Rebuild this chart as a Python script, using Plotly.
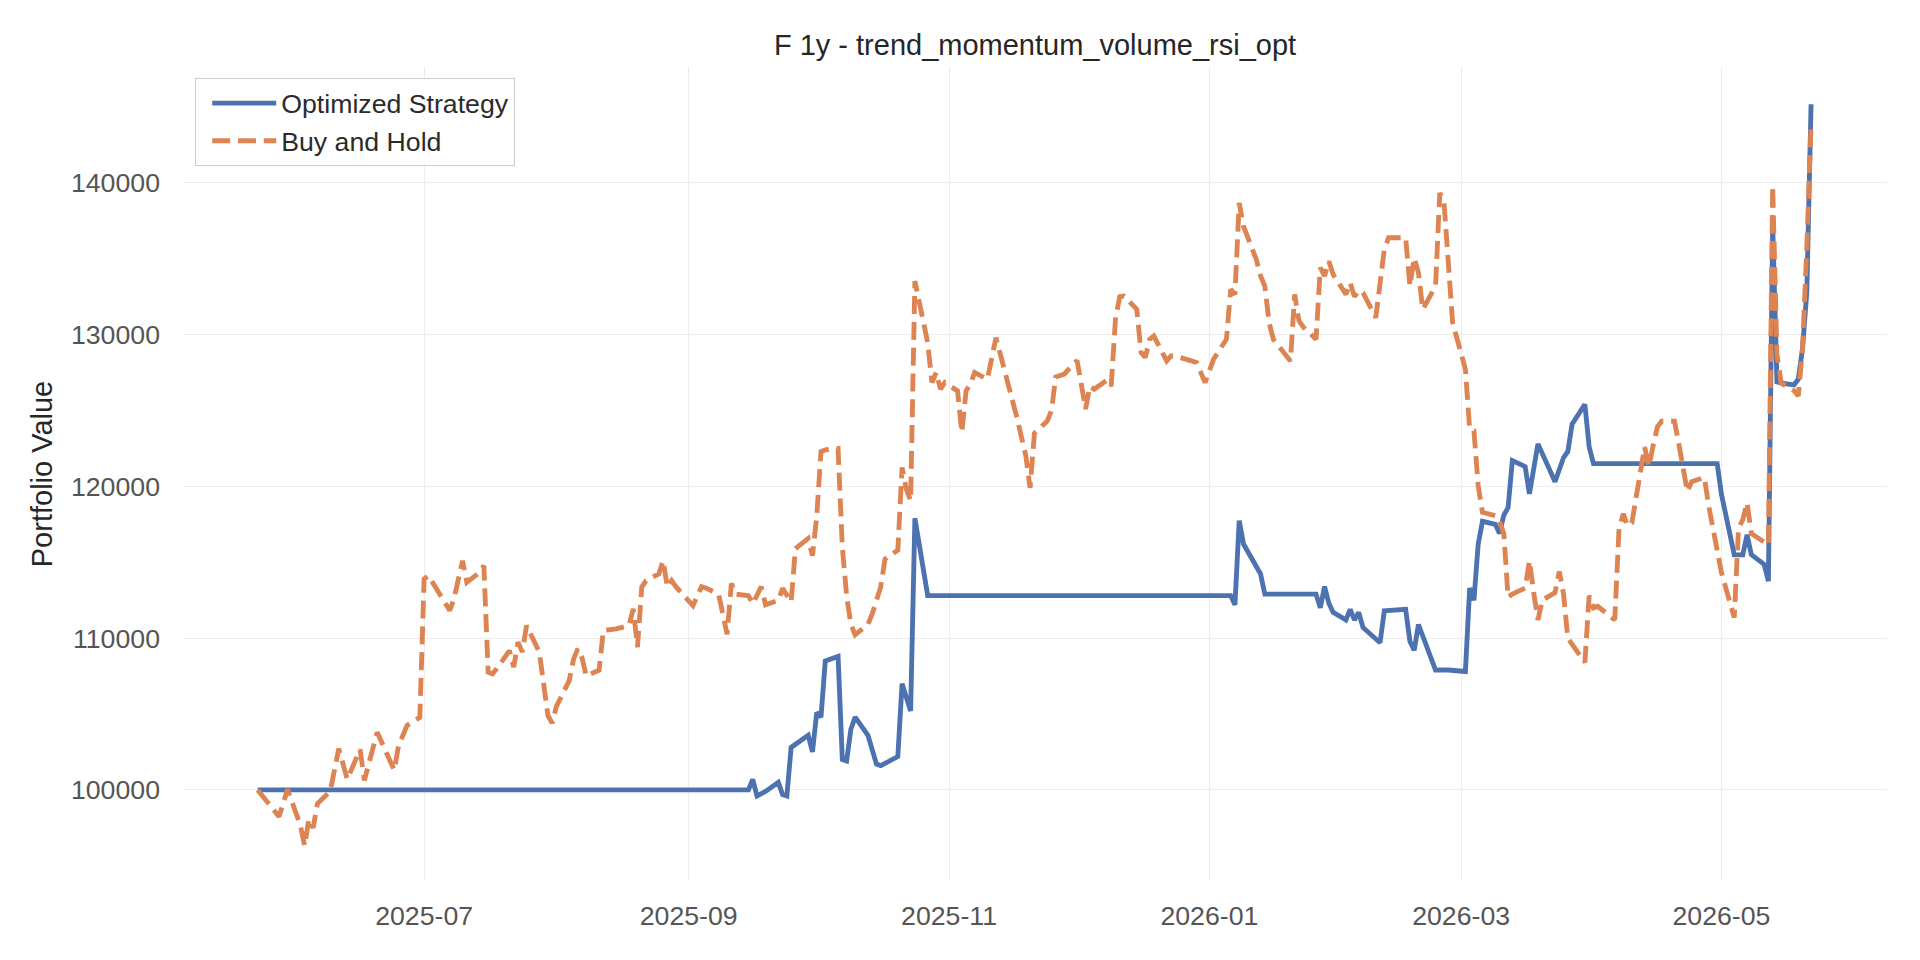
import plotly.graph_objects as go

# ---------------- data ----------------
strategy_dates = [
    "2025-05-23", "2025-09-15", "2025-09-16", "2025-09-17", "2025-09-19", "2025-09-22",
    "2025-09-23", "2025-09-24", "2025-09-25", "2025-09-29", "2025-09-30", "2025-10-01",
    "2025-10-02", "2025-10-03", "2025-10-06", "2025-10-07", "2025-10-08", "2025-10-09",
    "2025-10-10", "2025-10-13", "2025-10-15", "2025-10-16", "2025-10-20", "2025-10-21",
    "2025-10-23", "2025-10-24", "2025-10-27", "2026-01-06", "2026-01-07", "2026-01-08",
    "2026-01-09", "2026-01-13", "2026-01-14", "2026-01-26", "2026-01-27", "2026-01-28",
    "2026-01-29", "2026-01-30", "2026-02-02", "2026-02-03", "2026-02-04", "2026-02-05",
    "2026-02-06", "2026-02-09", "2026-02-10", "2026-02-11", "2026-02-16", "2026-02-17",
    "2026-02-18", "2026-02-19", "2026-02-23", "2026-02-26", "2026-03-02", "2026-03-03",
    "2026-03-04", "2026-03-05", "2026-03-06", "2026-03-09", "2026-03-10", "2026-03-11",
    "2026-03-12", "2026-03-13", "2026-03-16", "2026-03-17", "2026-03-18", "2026-03-19",
    "2026-03-23", "2026-03-25", "2026-03-26", "2026-03-27", "2026-03-30", "2026-03-31",
    "2026-04-01", "2026-04-30", "2026-05-01", "2026-05-04", "2026-05-06", "2026-05-07",
    "2026-05-08", "2026-05-11", "2026-05-12", "2026-05-13", "2026-05-14", "2026-05-15",
    "2026-05-18", "2026-05-19", "2026-05-20", "2026-05-21", "2026-05-22",
]
strategy_values = [
    100000, 100000, 100700, 99600, 99900, 100500,
    99700, 99600, 102800, 103600, 102500, 105100,
    104800, 108500, 108800, 102000, 101900, 104000,
    104800, 103600, 101700, 101600, 102200, 107000,
    105200, 117900, 112800, 112800, 112200, 117740,
    116200, 114230, 112900, 112900, 112000, 113400,
    112300, 111700, 111200, 111900, 111200, 111700,
    110700, 110000, 109700, 111800, 111900, 109800,
    109200, 110900, 107900, 107900, 107800, 113300,
    112500, 116200, 117700, 117500, 116900, 118100,
    118600, 121700, 121300, 119500, 121200, 122800,
    120300, 121900, 122300, 124100, 125400, 122600,
    121500, 121500, 119480, 115490, 115490, 116820,
    115500, 114860, 113750, 137230, 126880, 126800,
    126690, 127060, 129090, 132790, 145180,
]

buyhold_dates = [
    "2025-05-23", "2025-05-28", "2025-05-30", "2025-06-02", "2025-06-03", "2025-06-04",
    "2025-06-05", "2025-06-06", "2025-06-09", "2025-06-11", "2025-06-13", "2025-06-16",
    "2025-06-17", "2025-06-20", "2025-06-24", "2025-06-25", "2025-06-27", "2025-06-30",
    "2025-07-01", "2025-07-02", "2025-07-07", "2025-07-08", "2025-07-10", "2025-07-11",
    "2025-07-14", "2025-07-15", "2025-07-16", "2025-07-17", "2025-07-18", "2025-07-21",
    "2025-07-22", "2025-07-23", "2025-07-24", "2025-07-25", "2025-07-28", "2025-07-30",
    "2025-07-31", "2025-08-01", "2025-08-04", "2025-08-05", "2025-08-06", "2025-08-07",
    "2025-08-08", "2025-08-11", "2025-08-12", "2025-08-15", "2025-08-18", "2025-08-19",
    "2025-08-20", "2025-08-21", "2025-08-22", "2025-08-25", "2025-08-26", "2025-08-27",
    "2025-08-28", "2025-08-29", "2025-09-02", "2025-09-04", "2025-09-05", "2025-09-08",
    "2025-09-10", "2025-09-11", "2025-09-12", "2025-09-15", "2025-09-16", "2025-09-18",
    "2025-09-19", "2025-09-22", "2025-09-23", "2025-09-25", "2025-09-26", "2025-09-29",
    "2025-09-30", "2025-10-01", "2025-10-02", "2025-10-03", "2025-10-06", "2025-10-07",
    "2025-10-08", "2025-10-09", "2025-10-10", "2025-10-13", "2025-10-14", "2025-10-16",
    "2025-10-17", "2025-10-20", "2025-10-21", "2025-10-22", "2025-10-23", "2025-10-24",
    "2025-10-27", "2025-10-28", "2025-10-29", "2025-10-30", "2025-10-31", "2025-11-03",
    "2025-11-04", "2025-11-05", "2025-11-06", "2025-11-07", "2025-11-10", "2025-11-12",
    "2025-11-17", "2025-11-19", "2025-11-20", "2025-11-21", "2025-11-24", "2025-11-25",
    "2025-11-26", "2025-11-28", "2025-12-01", "2025-12-02", "2025-12-03", "2025-12-04",
    "2025-12-05", "2025-12-08", "2025-12-09", "2025-12-10", "2025-12-11", "2025-12-12",
    "2025-12-15", "2025-12-16", "2025-12-17", "2025-12-18", "2025-12-19", "2025-12-22",
    "2025-12-23", "2025-12-24", "2025-12-29", "2025-12-31", "2026-01-02", "2026-01-05",
    "2026-01-06", "2026-01-07", "2026-01-08", "2026-01-09", "2026-01-12", "2026-01-13",
    "2026-01-14", "2026-01-15", "2026-01-16", "2026-01-20", "2026-01-21", "2026-01-22",
    "2026-01-23", "2026-01-26", "2026-01-27", "2026-01-28", "2026-01-29", "2026-01-30",
    "2026-02-02", "2026-02-03", "2026-02-04", "2026-02-05", "2026-02-06", "2026-02-09",
    "2026-02-11", "2026-02-12", "2026-02-16", "2026-02-17", "2026-02-18", "2026-02-19",
    "2026-02-20", "2026-02-23", "2026-02-24", "2026-02-25", "2026-02-26", "2026-02-27",
    "2026-03-02", "2026-03-03", "2026-03-04", "2026-03-05", "2026-03-06", "2026-03-09",
    "2026-03-10", "2026-03-11", "2026-03-12", "2026-03-13", "2026-03-16", "2026-03-17",
    "2026-03-18", "2026-03-19", "2026-03-20", "2026-03-23", "2026-03-24", "2026-03-25",
    "2026-03-26", "2026-03-27", "2026-03-30", "2026-03-31", "2026-04-01", "2026-04-02",
    "2026-04-06", "2026-04-07", "2026-04-08", "2026-04-09", "2026-04-10", "2026-04-13",
    "2026-04-14", "2026-04-15", "2026-04-16", "2026-04-17", "2026-04-20", "2026-04-21",
    "2026-04-23", "2026-04-24", "2026-04-27", "2026-04-28", "2026-05-01", "2026-05-04",
    "2026-05-05", "2026-05-06", "2026-05-07", "2026-05-08", "2026-05-11", "2026-05-12",
    "2026-05-13", "2026-05-14", "2026-05-15", "2026-05-18", "2026-05-19", "2026-05-20",
    "2026-05-21", "2026-05-22",
]
buyhold_values = [
    100000, 98240, 100040, 97670, 96320, 98110,
    97500, 99100, 99910, 102720, 100700, 102670,
    100630, 103800, 101300, 102900, 104250, 104780,
    113900, 114120, 111820, 112590, 115100, 113680,
    114340, 114780, 107760, 107650, 107980, 109180,
    108090, 109740, 109080, 110830, 109080, 104910,
    104400, 105500, 107200, 108600, 109300, 108700,
    107500, 107900, 110500, 110610, 110830, 111930,
    109410, 113360, 113790, 114230, 115110, 113360,
    113790, 113390, 112140, 113390, 113300, 112910,
    110250, 113600, 112900, 112800, 112260, 113390,
    112200, 112490, 113280, 112380, 115890, 116570,
    115430, 118030, 122300, 122400, 122500, 116000,
    112800, 110900, 110220, 110910, 111590, 113390,
    115210, 115800, 121250, 119800, 119050, 133530,
    129470, 126840, 127500, 126400, 126840, 126290,
    123550, 126300, 126730, 127500, 127060, 129800,
    124430, 122000, 119900, 123500, 124300, 125000,
    127200, 127400, 128300, 126800, 125100, 126600,
    126400, 127000, 126600, 131000, 132500, 132540,
    131660, 128820, 128490, 129690, 129910, 128260,
    128590, 128590, 128160, 126840, 128380, 129690,
    132980, 132650, 138680, 137140, 134950, 133860,
    133200, 130800, 129690, 128260, 132650, 130900,
    130500, 129690, 134410, 133860, 134840, 133970,
    132650, 133420, 132500, 132900, 132760, 131120,
    135610, 136380, 136380, 133200, 135060, 134080,
    131660, 133200, 139340, 138680, 135170, 130790,
    127720, 123770, 123660, 120040, 118290, 118070,
    117700, 116900, 112700, 112900, 113300, 115100,
    113000, 111200, 112500, 113000, 114400, 112900,
    110000, 109600, 108400, 112800, 112000, 112100,
    111200, 117200, 118200, 117400, 117600, 122600,
    121300, 122700, 123920, 124290, 124290, 122810,
    119670, 120300, 120590, 118740, 114310, 111350,
    117260, 117800, 118930, 116890, 116400, 116150,
    139810, 128720, 126800, 126300, 125950, 129090,
    135750, 143880,
]

series_names = ["Optimized Strategy", "Buy and Hold"]
chart_title = "F 1y - trend_momentum_volume_rsi_opt"
y_label = "Portfolio Value"

# ---------------- figure ----------------
W, H = 1920, 960
L, R, T, B = 183, 33, 67, 79

fig = go.Figure()
fig.add_trace(go.Scatter(
    x=strategy_dates, y=strategy_values, mode="lines", name=series_names[0],
    line=dict(color="#4C72B0", width=4.85),
))
fig.add_trace(go.Scatter(
    x=buyhold_dates, y=buyhold_values, mode="lines", name=series_names[1],
    line=dict(color="#DD8452", width=4.85, dash="18px,7.8px"),
))

font_family = "Liberation Sans, Arial, sans-serif"
plot_w = W - L - R
plot_h = H - T - B

fig.update_layout(
    width=W, height=H,
    margin=dict(l=L, r=R, t=T, b=B, pad=0),
    paper_bgcolor="white", plot_bgcolor="white",
    font=dict(family=font_family, color="#262626"),
    title=dict(
        text=chart_title, x=0.5, xref="paper", xanchor="center",
        y=1 - 45 / H, yref="container", yanchor="middle",
        font=dict(size=29, color="#262626", family=font_family),
    ),
    showlegend=True,
    legend=dict(
        x=(195 - L) / plot_w, y=1 - (78 - T) / plot_h,
        xanchor="left", yanchor="top",
        bgcolor="rgba(255,255,255,0.8)", bordercolor="#cccccc", borderwidth=1.2,
        font=dict(size=26.7, color="#2b2b2b", family=font_family),
        itemwidth=64,
        indentation=11,
        tracegroupgap=0,
    ),
    xaxis=dict(
        type="date",
        range=["2025-05-05 12:00", "2026-06-08 19:00"],
        tick0="2025-07-01", dtick="M2", tickformat="%Y-%m",
        showgrid=True, gridcolor="#ededed", gridwidth=1.3,
        zeroline=False, showline=False, ticks="",
        tickfont=dict(size=26.7, color="#555555", family=font_family),
        ticklabelstandoff=16,
    ),
    yaxis=dict(
        range=[94000, 147630],
        tick0=0, dtick=10000, tickformat="d",
        showgrid=True, gridcolor="#ededed", gridwidth=1.3,
        zeroline=False, showline=False, ticks="",
        tickfont=dict(size=26.7, color="#555555", family=font_family),
        ticklabelstandoff=22,
        title=dict(text=y_label, standoff=9,
                   font=dict(size=29, color="#262626", family=font_family)),
    ),
)

fig.write_html(
    "out.html",
    config={"displayModeBar": False},
    post_script="document.body.style.margin='0';document.body.style.overflow='hidden';",
)
